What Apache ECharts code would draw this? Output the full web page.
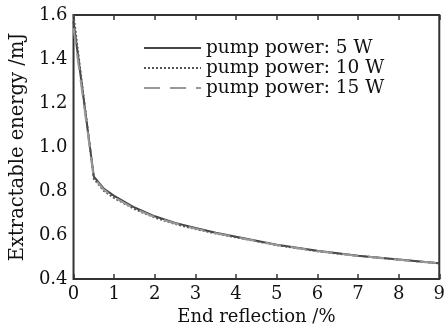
<!DOCTYPE html>
<html>
<head>
<meta charset="utf-8">
<script src="https://cdn.jsdelivr.net/npm/echarts@6/dist/echarts.min.js"></script>
<style>html,body{margin:0;padding:0;background:#fff;}#c{width:448px;height:331px;}</style>
</head>
<body>
<div id="c"></div>
<script>
const reflection = [0, 0.5, 0.75, 1, 1.5, 2, 2.5, 3, 3.5, 4, 5, 6, 7, 8, 9];
const power5W  = [1.57, 0.865, 0.81, 0.778, 0.725, 0.685, 0.655, 0.632, 0.61, 0.592, 0.556, 0.528, 0.506, 0.489, 0.472];
const power10W = [1.60, 0.855, 0.80, 0.768, 0.718, 0.679, 0.650, 0.627, 0.607, 0.589, 0.554, 0.526, 0.505, 0.488, 0.471];
const power15W = [1.54, 0.860, 0.805, 0.772, 0.720, 0.681, 0.652, 0.629, 0.608, 0.590, 0.555, 0.527, 0.505, 0.488, 0.471];
const seriesNames = ['pump power: 5 W', 'pump power: 10 W', 'pump power: 15 W'];
const xTitle = 'End reflection /%';
const yTitle = 'Extractable energy /mJ';

const pairs = arr => reflection.map((x, i) => [x, arr[i]]);
const font = 'DejaVu Serif';
const chart = echarts.init(document.getElementById('c'));
chart.setOption({
  animation: false,
  backgroundColor: '#fff',
  grid: { left: 67, right: 5, top: 15, bottom: 51, show: true, borderColor: '#333', borderWidth: 2, backgroundColor: 'transparent' },
  legend: {
    orient: 'vertical', left: 143, top: 38, padding: 0, itemWidth: 57, itemHeight: 14, itemGap: 0,
    itemStyle: { opacity: 0 },
    textStyle: { fontFamily: font, fontSize: 18.5, color: '#111', lineHeight: 20 },
    data: seriesNames
  },
  xAxis: [{
    type: 'value', min: 0, max: 9, interval: 1,
    name: xTitle, nameLocation: 'middle', nameGap: 29,
    nameTextStyle: { fontFamily: font, fontSize: 18, color: '#111' },
    axisLine: { show: false },
    axisTick: { show: true, inside: true, length: 5, lineStyle: { color: '#333', width: 1.5 } },
    axisLabel: { fontFamily: font, fontSize: 18, color: '#111', margin: 6 },
    splitLine: { show: false }
  }, {
    type: 'value', min: 0, max: 9, interval: 1, position: 'top',
    axisLine: { show: false },
    axisTick: { show: true, inside: true, length: 5, lineStyle: { color: '#333', width: 1.5 } },
    axisLabel: { show: false }, splitLine: { show: false }
  }],
  yAxis: {
    type: 'value', min: 0.4, max: 1.6, interval: 0.2,
    name: yTitle, nameLocation: 'middle', nameGap: 40,
    nameTextStyle: { fontFamily: font, fontSize: 19.5, color: '#111' },
    axisLine: { show: false }, axisTick: { show: false },
    axisLabel: { fontFamily: font, fontSize: 18, color: '#111', margin: 6, formatter: v => v.toFixed(1) },
    splitLine: { show: false }
  },
  series: [
    { name: seriesNames[0], type: 'line', symbol: 'none', data: pairs(power5W), lineStyle: { color: '#444', width: 2, type: 'solid' }, itemStyle: { color: '#444' } },
    { name: seriesNames[1], type: 'line', symbol: 'none', data: pairs(power10W), lineStyle: { color: '#555', width: 2, type: [2, 2] }, itemStyle: { color: '#555' } },
    { name: seriesNames[2], type: 'line', symbol: 'none', data: pairs(power15W), lineStyle: { color: '#999', width: 2, type: [16, 10] }, itemStyle: { color: '#999' } }
  ]
});
</script>
</body>
</html>
